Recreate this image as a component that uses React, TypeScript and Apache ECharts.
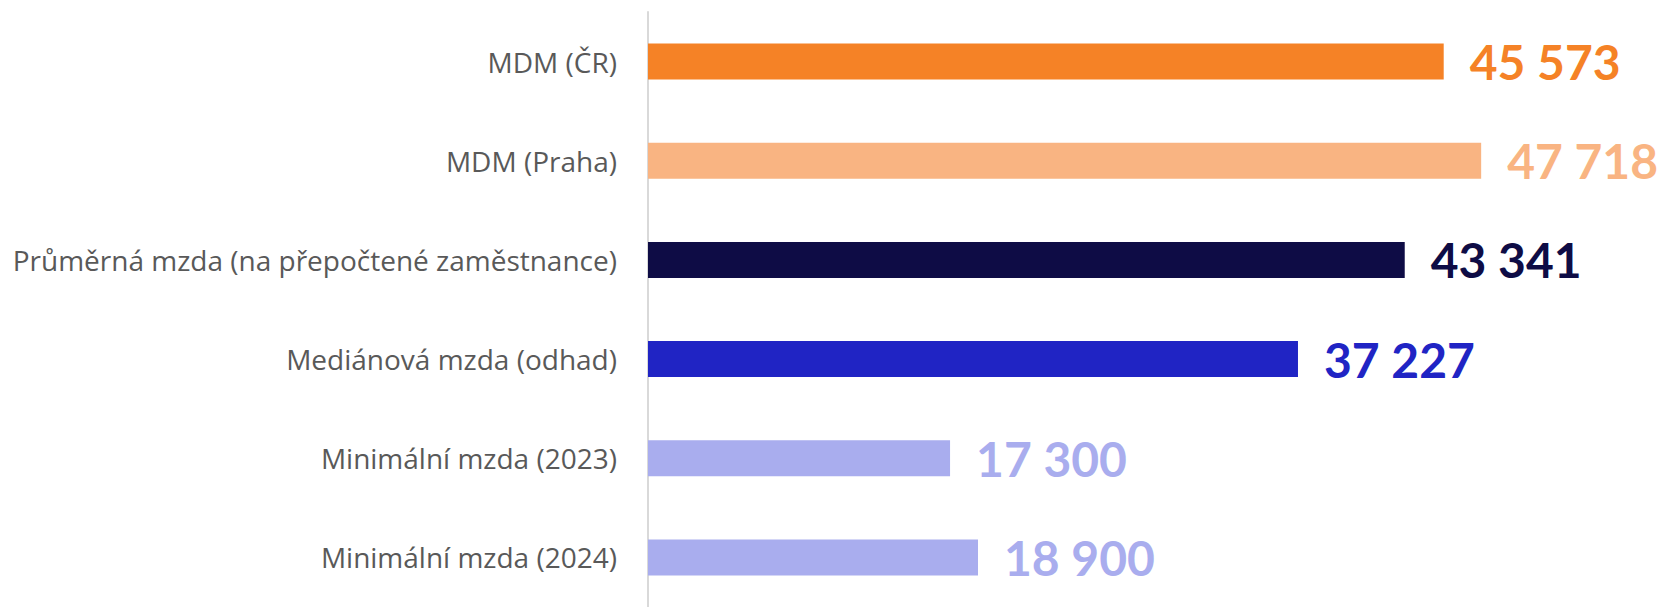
import React, { useEffect, useRef } from "react";
import * as echarts from "echarts";

const categories = [
  "MDM (ČR)",
  "MDM (Praha)",
  "Průměrná mzda (na přepočtené zaměstnance)",
  "Mediánová mzda (odhad)",
  "Minimální mzda (2023)",
  "Minimální mzda (2024)",
];
const values = [45573, 47718, 43341, 37227, 17300, 18900];
const colors = ["#F58226", "#F9B482", "#0E0C45", "#2024C4", "#A9ADEE", "#A9ADEE"];

const fmt = (v: number) => String(v).replace(/\B(?=(\d{3})+(?!\d))/g, " ");

export default function App() {
  const ref = useRef<HTMLDivElement>(null);
  useEffect(() => {
    if (!ref.current) return;
    const chart = echarts.init(ref.current, null, { renderer: "svg" });
    chart.setOption({
      animation: false,
      backgroundColor: "#ffffff",
      grid: { left: 648, top: 12, width: 873, height: 600, containLabel: false },
      xAxis: {
        type: "value",
        min: 0,
        max: 50000,
        show: false,
      },
      yAxis: {
        type: "category",
        inverse: true,
        data: categories,
        axisLine: { show: true, lineStyle: { color: "#D9D9D9", width: 2 } },
        axisTick: { show: false },
        splitLine: { show: false },
        axisLabel: {
          margin: 31,
          color: "#595959",
          fontFamily: "Open Sans",
          fontSize: 28,
        },
      },
      series: [
        {
          type: "bar",
          barWidth: 36,
          data: values.map((v, i) => ({
            value: v,
            itemStyle: { color: colors[i] },
            label: { color: colors[i] },
          })),
          label: {
            show: true,
            position: "right",
            distance: 26,
            fontFamily: "Lato",
            fontWeight: "bold",
            fontSize: 48,
            formatter: (p: any) => fmt(p.value),
          },
        },
      ],
    });
    return () => chart.dispose();
  }, []);
  return (
    <div
      ref={ref}
      style={{ position: "absolute", left: 0, top: 0, width: 1663, height: 607 }}
    />
  );
}
